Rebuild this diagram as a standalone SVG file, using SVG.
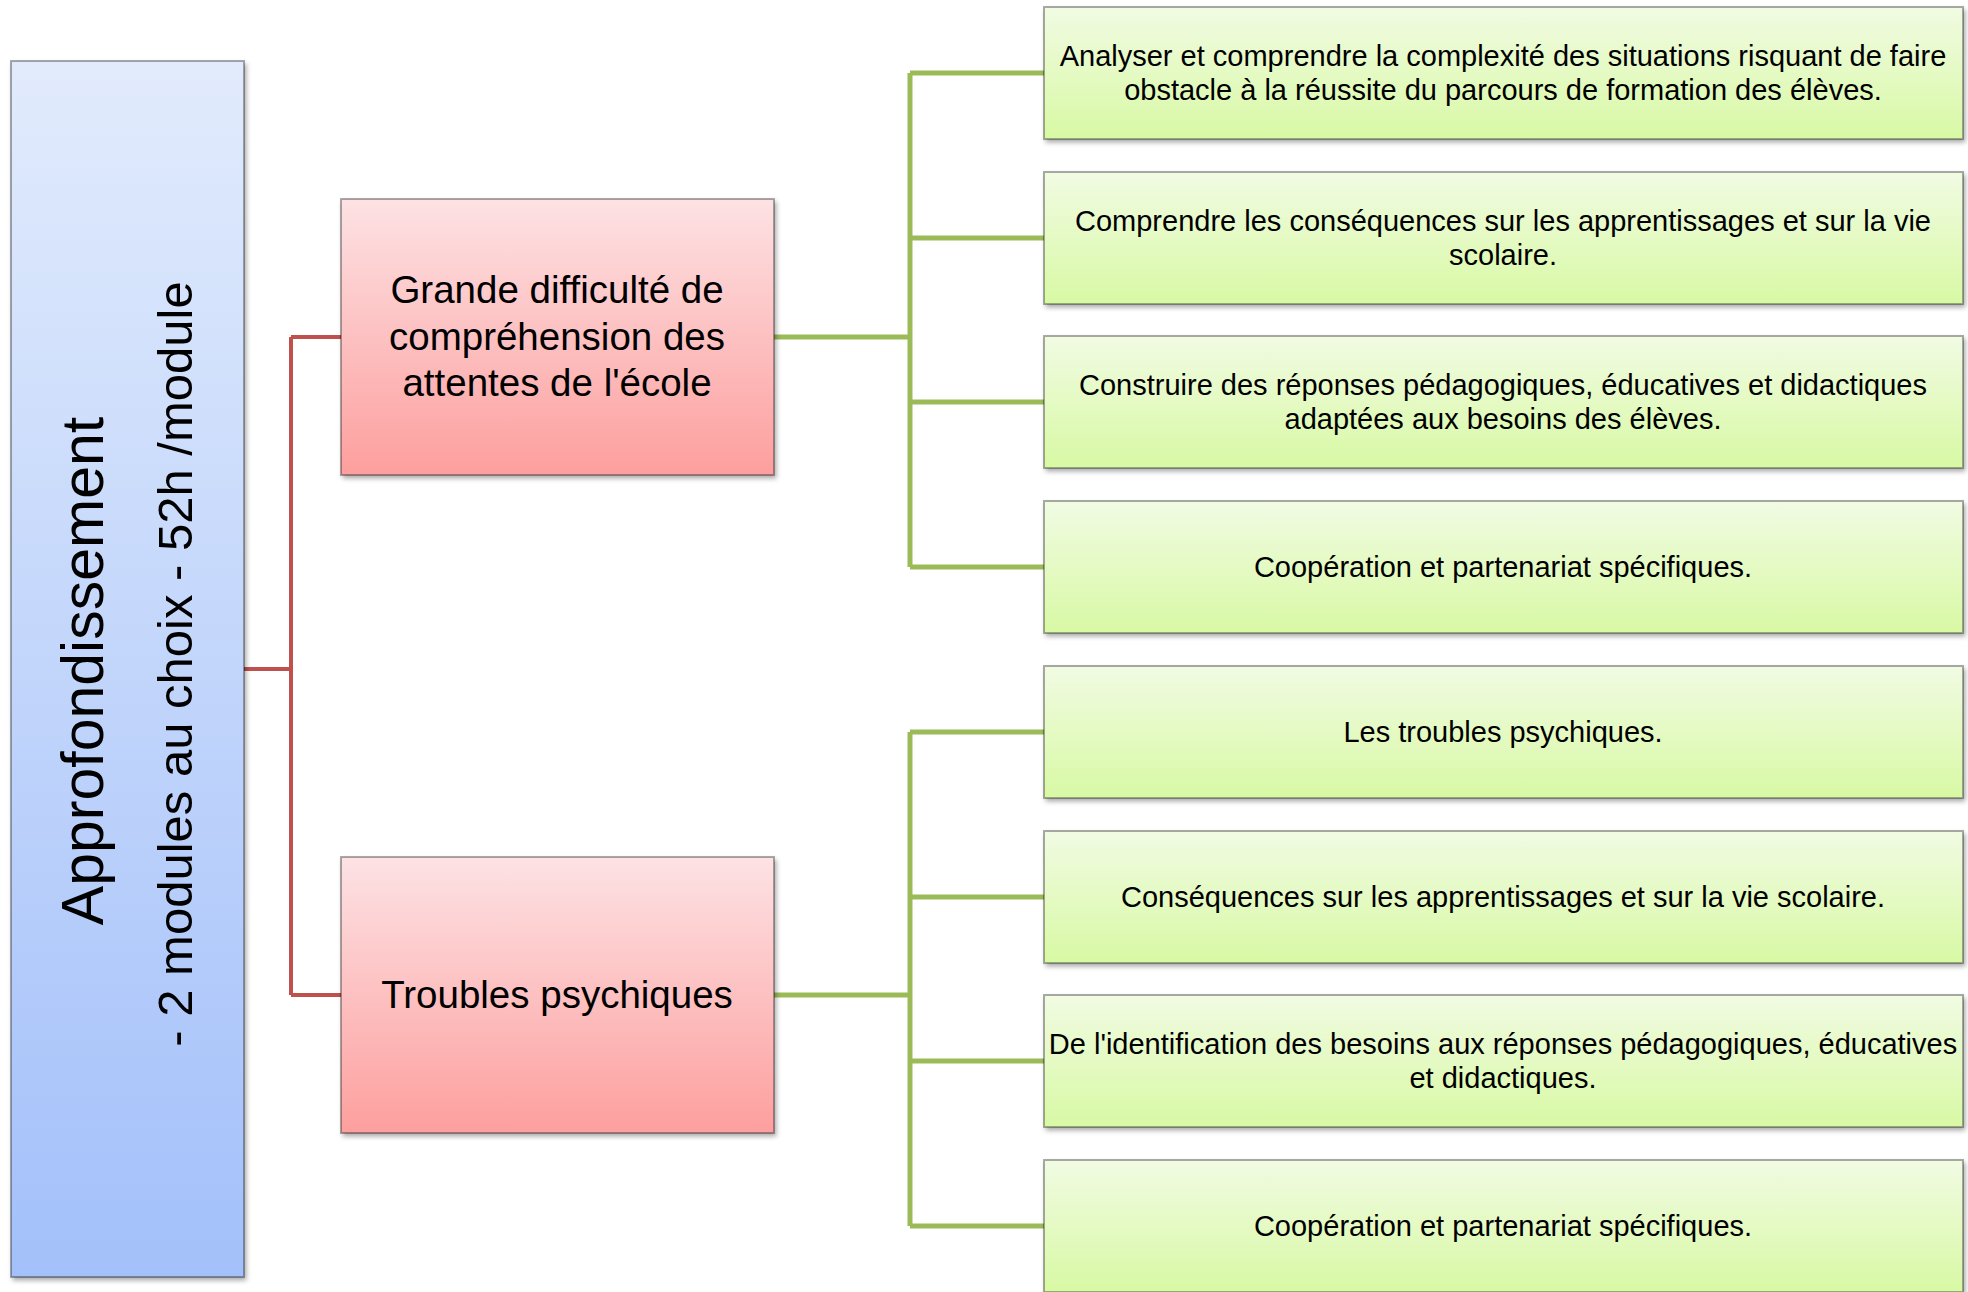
<svg xmlns="http://www.w3.org/2000/svg" width="1968" height="1292" viewBox="0 0 1968 1292">
<defs>
<linearGradient id="gBlue" x1="0" y1="0" x2="0" y2="1"><stop offset="0" stop-color="#E1EBFC"/><stop offset="1" stop-color="#A3C0FA"/></linearGradient>
<linearGradient id="gRed" x1="0" y1="0" x2="0" y2="1"><stop offset="0" stop-color="#FDE2E4"/><stop offset="1" stop-color="#FD9F9E"/></linearGradient>
<linearGradient id="gGreen" x1="0" y1="0" x2="0" y2="1"><stop offset="0" stop-color="#F1FBE3"/><stop offset="1" stop-color="#D8F9A4"/></linearGradient>
<filter id="sh" x="-5%" y="-5%" width="110%" height="115%"><feDropShadow dx="2" dy="3" stdDeviation="2.5" flood-color="#000" flood-opacity="0.35"/></filter>
</defs>
<style>
.box{stroke:#000;stroke-opacity:0.32;stroke-width:2;filter:url(#sh)}
.blue{fill:url(#gBlue)}
.red{fill:url(#gRed)}
.green{fill:url(#gGreen)}
text{font-family:"Liberation Sans",Arial,sans-serif;fill:#000;text-anchor:middle}
.t1{font-size:59px}
.t2{font-size:49px}
.tm{font-size:38.5px}
.tg{font-size:29px}
.cr{fill:none;stroke:#C0504D;stroke-width:4}
.cg{fill:none;stroke:#9BBB59;stroke-width:5}
</style>
<rect width="1968" height="1292" fill="#fff"/>
<g id="connectors">
<path class="cr" d="M244 669 H291 M291 337 V995 M291 337 H341 M291 995 H341"/>
<path class="cg" d="M774 337 H910 M910 73 V567 M910 73 H1044 M910 238 H1044 M910 402 H1044 M910 567 H1044"/>
<path class="cg" d="M774 995 H910 M910 732 V1226 M910 732 H1044 M910 897 H1044 M910 1061 H1044 M910 1226 H1044"/>
</g>
<g id="root">
<rect class="box blue" x="11" y="61" width="233" height="1216"/>
<text class="t1" x="103" y="671" transform="rotate(-90 103 671)">Approfondissement</text>
<text class="t2" x="192" y="664" transform="rotate(-90 192 664)">- 2 modules au choix - 52h /module</text>
</g>
<g id="m1">
<rect class="box red" x="341" y="199" width="433" height="276"/>
<text class="tm" x="557" y="303">Grande difficulté de</text>
<text class="tm" x="557" y="350">compréhension des</text>
<text class="tm" x="557" y="396">attentes de l'école</text>
</g>
<g id="m2">
<rect class="box red" x="341" y="857" width="433" height="276"/>
<text class="tm" x="557" y="1008">Troubles psychiques</text>
</g>
<g id="g1">
<rect class="box green" x="1044" y="7" width="919" height="132"/>
<text class="tg" x="1503" y="66">Analyser et comprendre la complexité des situations risquant de faire</text>
<text class="tg" x="1503" y="100">obstacle à la réussite du parcours de formation des élèves.</text>
</g>
<g id="g2">
<rect class="box green" x="1044" y="172" width="919" height="132"/>
<text class="tg" x="1503" y="231">Comprendre les conséquences sur les apprentissages et sur la vie</text>
<text class="tg" x="1503" y="265">scolaire.</text>
</g>
<g id="g3">
<rect class="box green" x="1044" y="336" width="919" height="132"/>
<text class="tg" x="1503" y="395">Construire des réponses pédagogiques, éducatives et didactiques</text>
<text class="tg" x="1503" y="429">adaptées aux besoins des élèves.</text>
</g>
<g id="g4">
<rect class="box green" x="1044" y="501" width="919" height="132"/>
<text class="tg" x="1503" y="577">Coopération et partenariat spécifiques.</text>
</g>
<g id="g5">
<rect class="box green" x="1044" y="666" width="919" height="132"/>
<text class="tg" x="1503" y="742">Les troubles psychiques.</text>
</g>
<g id="g6">
<rect class="box green" x="1044" y="831" width="919" height="132"/>
<text class="tg" x="1503" y="907">Conséquences sur les apprentissages et sur la vie scolaire.</text>
</g>
<g id="g7">
<rect class="box green" x="1044" y="995" width="919" height="132"/>
<text class="tg" x="1503" y="1054">De l'identification des besoins aux réponses pédagogiques, éducatives</text>
<text class="tg" x="1503" y="1088">et didactiques.</text>
</g>
<g id="g8">
<rect class="box green" x="1044" y="1160" width="919" height="132"/>
<text class="tg" x="1503" y="1236">Coopération et partenariat spécifiques.</text>
</g>
</svg>
